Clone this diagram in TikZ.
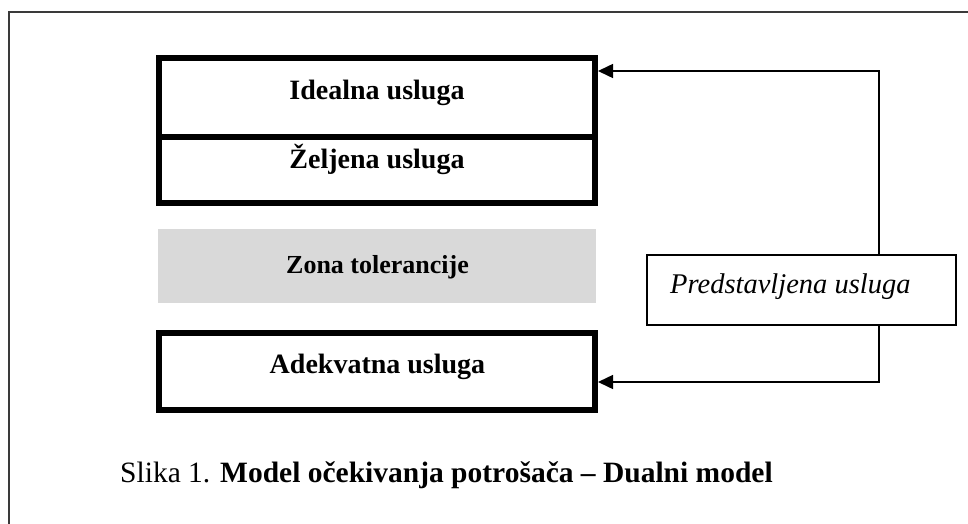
\documentclass[tikz,border=0pt]{standalone}
\usepackage{fontspec}
\setmainfont{Liberation Serif}
\usetikzlibrary{arrows.meta}

\definecolor{zonegray}{HTML}{D9D9D9}
\definecolor{framegray}{HTML}{3A3A3A}

\tikzset{
  levelbox/.style={draw=black, line width=6pt, inner sep=0pt, fill=none},
  zonebox/.style={fill=zonegray, draw=none, inner sep=0pt},
  perfbox/.style={draw=black, line width=1.6pt, inner sep=0pt},
  boxlabel/.style={font=\fontsize{28}{32}\selectfont\bfseries, anchor=base, inner sep=0pt},
  conn/.style={line width=1.5pt, -{Triangle[length=15pt,width=14pt]}},
  framebar/.style={draw=framegray, line width=1.5pt}
}

\begin{document}
\begin{tikzpicture}[x=1pt, y=-1pt]
  \useasboundingbox (0,0) rectangle (968,524);

  % open frame: top and left edge only
  \draw[framebar] (9,524) -- (9,12) -- (968,12);

  % stacked service levels
  \node[levelbox, minimum width=436pt, minimum height=79pt] (ideal) at (377,97.5) {};
  \node[levelbox, minimum width=436pt, minimum height=66pt] (desired) at (377,170) {};
  \node[zonebox, minimum width=438pt, minimum height=74pt] (zone) at (377,266) {};
  \node[levelbox, minimum width=436pt, minimum height=77pt] (adequate) at (377,371.5) {};

  \node[boxlabel] (idealtxt) at (377,100) {Idealna usluga};
  \node[boxlabel] (desiredtxt) at (377,168) {Željena usluga};
  \node[boxlabel, font=\fontsize{26}{30}\selectfont\bfseries] (zonetxt) at (377.5,273) {Zona tolerancije};
  \node[boxlabel] (adequatetxt) at (377.5,373) {Adekvatna usluga};

  % perceived service box
  \node[perfbox, minimum width=309pt, minimum height=70pt] (perf) at (801.5,290) {};
  \node[anchor=base west, inner sep=0pt, font=\fontsize{28.5}{32}\selectfont\itshape] (perftxt) at (670,293) {Predstavljena usluga};

  % feedback connectors
  \coordinate (upturn) at (879,71);
  \coordinate (downturn) at (879,382);
  \draw[conn] (perf.north -| upturn) -- (upturn) -- (ideal.east |- upturn);
  \draw[conn] (perf.south -| downturn) -- (downturn) -- (adequate.east |- downturn);

  % caption
  \node[anchor=base west, inner sep=0pt, font=\fontsize{29.5}{34}\selectfont] (caption) at (120,482)
    {Slika 1. \textbf{Model očekivanja potrošača – Dualni model}};
\end{tikzpicture}
\end{document}
